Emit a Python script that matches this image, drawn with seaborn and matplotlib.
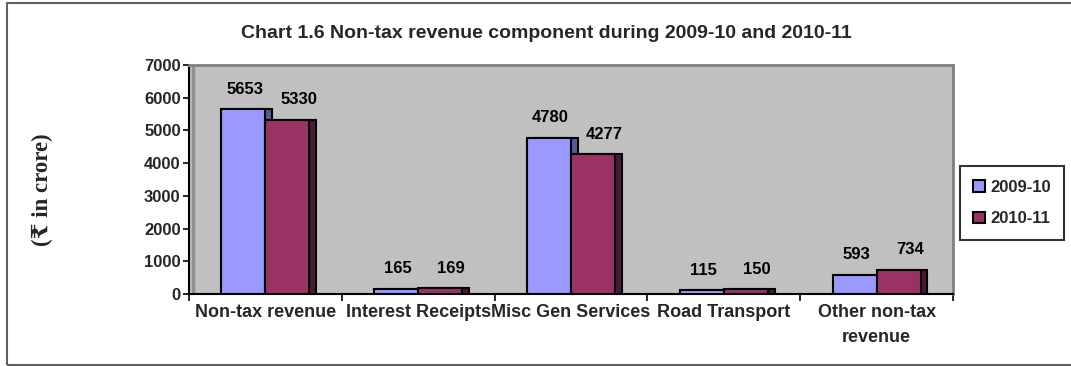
import matplotlib
matplotlib.use("Agg")
import matplotlib.pyplot as plt
import seaborn as sns
import pandas as pd
from matplotlib.patches import Rectangle

categories = ["Non-tax revenue", "Interest Receipts", "Misc Gen Services", "Road Transport", "Other non-tax\nrevenue"]
years = ["2009-10", "2010-11"]
values_2009 = [5653, 165, 4780, 115, 593]
values_2010 = [5330, 169, 4277, 150, 734]
yticks = [0, 1000, 2000, 3000, 4000, 5000, 6000, 7000]

colors = ["#9999FF", "#993366"]
side_colors = ["#5A5A99", "#4A1A33"]

df = pd.DataFrame({
    "category": categories * 2,
    "year": [years[0]] * len(categories) + [years[1]] * len(categories),
    "value": values_2009 + values_2010,
})

sns.set_theme(style="white")
plt.rcParams["font.family"] = ["Liberation Sans", "DejaVu Sans"]

fig = plt.figure(figsize=(10.71, 3.66), dpi=100)
ax = fig.add_axes([189 / 1071, 1 - 294 / 366, (953 - 189) / 1071, (294 - 65) / 366])
ax.set_facecolor("#C0C0C0")

sns.barplot(data=df, x="category", y="value", hue="year", order=categories,
            hue_order=years, palette=colors, width=0.576, ax=ax,
            edgecolor="black", linewidth=1.5, saturation=1, zorder=3)

# depth strips (pseudo 3D) behind each bar + value labels
depth = 0.045
label_dx = [1, 8]  # points, per series
for si, container in enumerate(ax.containers):
    for p in container.patches:
        r = Rectangle((p.get_x() + depth, p.get_y()), p.get_width(), p.get_height(),
                      facecolor=side_colors[si], edgecolor="black", linewidth=1.5, zorder=2)
        ax.add_patch(r)
        ax.annotate(f"{int(round(p.get_height()))}",
                    (p.get_x() + p.get_width() / 2, p.get_height()),
                    xytext=(label_dx[si], 9), textcoords="offset points",
                    ha="center", va="bottom", fontsize=12, fontweight="bold", color="black")

ax.set_xlim(-0.5, len(categories) - 0.5)
ax.set_ylim(0, 7000)
ax.set_yticks(yticks)
ax.set_yticklabels([str(t) for t in yticks], fontsize=12, fontweight="bold")
ax.tick_params(axis="y", which="major", direction="out", length=4, width=1.2, color="black", left=True, pad=2)

ax.set_xticks(range(len(categories)))
ax.set_xticklabels(categories, fontsize=13, fontweight="bold", linespacing=1.65)
ax.tick_params(axis="x", which="major", length=0, pad=7)
ax.set_xticks([i - 0.5 for i in range(len(categories) + 1)], minor=True)
ax.tick_params(axis="x", which="minor", direction="out", length=5, width=1.2, color="black", bottom=True)

ax.set_xlabel("")
ax.set_ylabel("(₹ in crore)", fontsize=16.5, fontweight="bold",
              family=["Liberation Serif", "DejaVu Serif", "DejaVu Sans"], labelpad=0)
ax.yaxis.set_label_coords(-0.178, 0.455)

for s in ["left", "bottom"]:
    ax.spines[s].set_color("black")
    ax.spines[s].set_linewidth(1.5)
for s in ["top", "right"]:
    ax.spines[s].set_color("#808080")
    ax.spines[s].set_linewidth(2)
    ax.spines[s].set_visible(True)
ax.axvline(-0.5 + 0.025, color="#909090", linewidth=2.5, zorder=1)

leg = ax.legend(loc="center left", bbox_to_anchor=(960 / 1071, 1 - 203 / 366),
                bbox_transform=fig.transFigure, frameon=True, fancybox=False,
                prop={"weight": "bold", "size": 12}, handlelength=0.7, handleheight=0.7,
                handletextpad=0.3, labelspacing=1.0, borderpad=0.8, borderaxespad=0)
leg.get_frame().set_edgecolor("black")
leg.get_frame().set_linewidth(1.5)
leg.set_title(None)

fig.text(546 / 1071, 1 - 33 / 366, "Chart 1.6 Non-tax revenue component during 2009-10 and 2010-11",
         ha="center", va="center", fontsize=14, fontweight="bold")

# outer chart border
fig.patches.append(Rectangle((7 / 1071, 1 - 365 / 366), 1.1, 362 / 366, transform=fig.transFigure,
                             fill=False, edgecolor="#606060", linewidth=1.5, zorder=0))

fig.savefig("out.png", dpi=100, facecolor="white")
